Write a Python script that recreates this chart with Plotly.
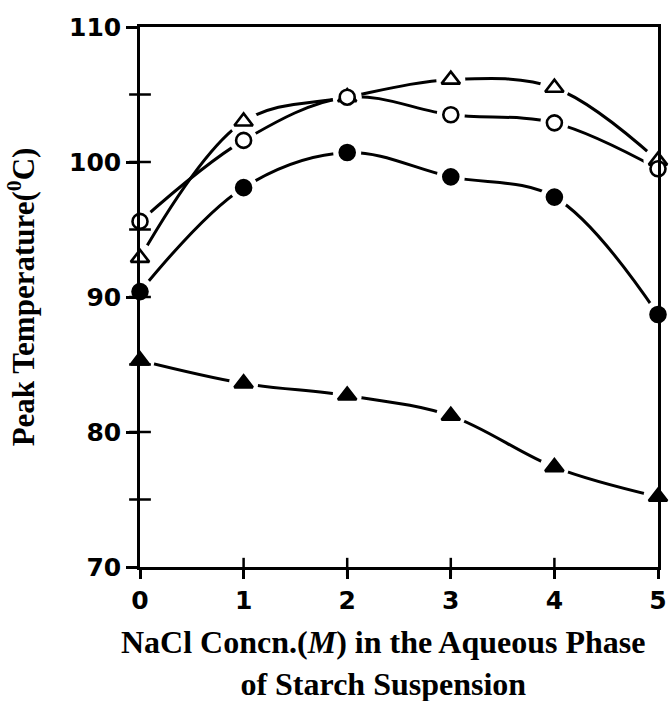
import plotly.graph_objects as go

conc = [0, 1, 2, 3, 4, 5]
open_tri = [92.9, 103.0, 104.8, 106.1, 105.5, 100.1]
open_circ = [95.6, 101.6, 104.8, 103.5, 102.9, 99.5]
fill_circ = [90.4, 98.1, 100.7, 98.9, 97.4, 88.7]
fill_tri = [85.3, 83.6, 82.7, 81.2, 77.4, 75.2]
y_ticks = [70, 80, 90, 100, 110]
y_cross_ticks = [75, 80, 85, 90, 95, 100, 105]
x_ticks = [0, 1, 2, 3, 4, 5]
x_cross_ticks = [1, 2, 3, 4]

series = [
    (open_tri, "triangle-up", "white", 16),
    (open_circ, "circle", "white", 15),
    (fill_circ, "circle", "black", 15),
    (fill_tri, "triangle-up", "black", 16),
]

fig = go.Figure()
for ys, sym, fill, sz in series:
    fig.add_trace(go.Scatter(x=conc, y=ys, mode="lines",
                             line=dict(color="black", width=3, shape="spline", smoothing=1.0),
                             hoverinfo="skip", showlegend=False, cliponaxis=False))
for ys, sym, fill, sz in series:
    fig.add_trace(go.Scatter(x=conc, y=ys, mode="markers",
                             marker=dict(symbol="circle", size=sz + 13, color="white", line=dict(width=0)),
                             hoverinfo="skip", showlegend=False, cliponaxis=False))
for ys, sym, fill, sz in series:
    fig.add_trace(go.Scatter(x=conc, y=ys, mode="markers",
                             marker=dict(symbol=sym, size=sz, color=fill, line=dict(color="black", width=2.6)),
                             showlegend=False, cliponaxis=False))

# tick marks crossing the axis lines
for v in y_cross_ticks:
    fig.add_shape(type="line", xref="paper", yref="y", x0=-0.021, x1=0.021, y0=v, y1=v,
                  line=dict(color="black", width=2.5), layer="above")
for v in x_cross_ticks:
    fig.add_shape(type="line", xref="x", yref="paper", y0=-0.017, y1=0.017, x0=v, x1=v,
                  line=dict(color="black", width=2.5), layer="above")

tickfont = dict(family="DejaVu Sans", size=25, color="black", weight="bold")

fig.add_annotation(text="NaCl Concn.(<i>M</i>) in the Aqueous Phase<br>of Starch Suspension",
                   xref="paper", yref="paper", x=0.471, y=0, xanchor="center", yanchor="top",
                   yshift=-55, showarrow=False, align="center",
                   font=dict(family="Liberation Serif", size=32, color="black", weight="bold"))

fig.update_layout(
    width=671, height=701,
    margin=dict(l=140, r=13, t=27, b=134),
    paper_bgcolor="white", plot_bgcolor="white",
    xaxis=dict(range=[0, 5], tickvals=x_ticks, ticks="outside", ticklen=9, tickwidth=2.5,
               tickcolor="black", showline=True, linecolor="black", linewidth=2.5, mirror=True,
               showgrid=False, zeroline=False, tickfont=tickfont, automargin=False),
    yaxis=dict(range=[70, 110], tickvals=y_ticks, ticks="outside", ticklen=11,
               tickwidth=2.5, tickcolor="black", showline=True, linecolor="black", linewidth=2.5,
               mirror=True, showgrid=False, zeroline=False, tickfont=tickfont, automargin=False,
               title=dict(text="Peak Temperature(<sup>0</sup>C)",
                          font=dict(family="Liberation Serif", size=31, color="black", weight="bold"),
                          standoff=26)),
)

fig.write_html("out.html")
